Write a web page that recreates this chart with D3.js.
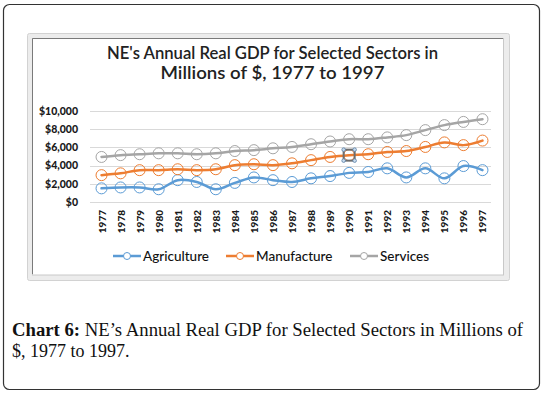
<!DOCTYPE html>
<html>
<head>
<meta charset="utf-8">
<script src="https://cdn.jsdelivr.net/npm/d3@7"></script>
<style>
  body { margin: 0; background: #fff; }
  svg { display: block; }
</style>
</head>
<body>
<svg id="chart"></svg>
<script>
// data
var years = ["1977","1978","1979","1980","1981","1982","1983","1984","1985","1986","1987",
             "1988","1989","1990","1991","1992","1993","1994","1995","1996","1997"]
var agriculture = [1500,1600,1600,1400,2400,2200,1400,2100,2700,2400,2200,
                   2600,2850,3200,3300,3700,2700,3700,2600,3950,3500]
var manufacture = [2950,3150,3500,3500,3600,3500,3600,4050,4150,4050,4250,
                   4600,4950,5150,5250,5500,5600,6050,6550,6250,6750]
var services = [4950,5150,5250,5350,5350,5250,5350,5600,5700,5900,6050,
                6350,6650,6900,6900,7100,7350,7900,8450,8800,9100]
var yTicks = [0,2000,4000,6000,8000,10000]
var seriesNames = ["Agriculture","Manufacture","Services"]
var seriesColors = ["#5b9bd5","#ed7d31","#a5a5a5"]

var series = [agriculture, manufacture, services].map((vals, i) => {
    return {name: seriesNames[i], color: seriesColors[i], values: vals}
})

var dimensions = {
    width: 544,
    height: 394,
    plot: {left: 92, right: 492, top: 111, bottom: 202}
}

var svg = d3.select("#chart")
            .attr("width", dimensions.width)
            .attr("height", dimensions.height)

// outer rounded box
svg.append("rect")
   .attr("x", 3.5).attr("y", 4.5)
   .attr("width", 536).attr("height", 385)
   .attr("rx", 6)
   .style("fill", "white")
   .style("stroke", "#333")
   .style("stroke-width", 1.2)

// excel chart frame (selected look)
svg.append("rect")
   .attr("x", 27.5).attr("y", 33.5)
   .attr("width", 482).attr("height", 247)
   .attr("rx", 2)
   .style("fill", "#ececec")
   .style("stroke", "#d2d2d2")
svg.append("rect")
   .attr("x", 32.5).attr("y", 38.5)
   .attr("width", 471).attr("height", 236.5)
   .style("fill", "white")
   .style("stroke", "#c8c8c8")
svg.append("path")
   .attr("d", "M32.5,274 L32.5,38.5 L503,38.5")
   .style("fill", "none")
   .style("stroke", "#7a7a7a")

// title
var font = "Lato, 'Noto Sans', sans-serif"
var title = svg.append("g")
               .style("font-family", font)
               .style("font-size", "17px")
               .style("font-weight", "600")
               .style("fill", "#222")
title.append("text")
     .attr("x", 272.5).attr("y", 58.5)
     .attr("text-anchor", "middle")
     .attr("textLength", 331)
     .attr("lengthAdjust", "spacingAndGlyphs")
     .text("NE's Annual Real GDP for Selected Sectors in")
title.append("text")
     .attr("x", 272.5).attr("y", 79)
     .attr("text-anchor", "middle")
     .attr("textLength", 224)
     .attr("lengthAdjust", "spacingAndGlyphs")
     .text("Millions of $, 1977 to 1997")

var xScale = d3.scalePoint()
               .domain(years)
               .range([dimensions.plot.left, dimensions.plot.right])
               .padding(0.5)

var yScale = d3.scaleLinear()
               .domain([0, 10000])
               .range([dimensions.plot.bottom, dimensions.plot.top])

// gridlines
svg.append("g")
   .selectAll("line")
   .data(yTicks)
   .enter()
   .append("line")
   .attr("x1", dimensions.plot.left - 2)
   .attr("x2", dimensions.plot.right - 1)
   .attr("y1", d => Math.round(yScale(d)) + 0.5)
   .attr("y2", d => Math.round(yScale(d)) + 0.5)
   .style("stroke", "#d9d9d9")
   .style("stroke-width", 1)

// y axis labels
var yAxis = svg.append("g")
               .attr("transform", "translate(" + (dimensions.plot.left - 11) + ",0)")
               .call(d3.axisLeft(yScale).tickValues(yTicks).tickSize(0)
                       .tickFormat(d => "$" + d3.format(",")(d)))
yAxis.select(".domain").remove()
yAxis.selectAll("text")
     .style("font-family", font)
     .style("font-size", "10.5px")
     .style("font-weight", "900")
     .style("fill", "#1a1a1a")

// x axis labels, rotated
var xAxis = svg.append("g")
               .attr("transform", "translate(0," + (dimensions.plot.bottom + 8) + ")")
               .call(d3.axisBottom(xScale).tickSize(0))
xAxis.select(".domain").remove()
xAxis.selectAll("text")
     .attr("transform", "rotate(-90)")
     .attr("x", 0).attr("y", 0)
     .attr("dy", "0.35em")
     .attr("text-anchor", "end")
     .style("font-family", font)
     .style("font-size", "10px")
     .style("font-weight", "900")
     .style("fill", "#1a1a1a")

var line = d3.line()
             .x((d, i) => xScale(years[i]))
             .y(d => yScale(d))
             .curve(d3.curveCatmullRom.alpha(0.5))

var groups = svg.append("g")
                .selectAll("g")
                .data(series)
                .enter()
                .append("g")

groups.append("path")
      .attr("d", d => line(d.values))
      .style("fill", "none")
      .style("stroke", d => d.color)
      .style("stroke-width", 2.5)
      .style("stroke-linecap", "round")

groups.selectAll("circle")
      .data(d => d.values.map(v => ({v: v, color: d.color})))
      .enter()
      .append("circle")
      .attr("cx", (d, i) => xScale(years[i]))
      .attr("cy", d => yScale(d.v))
      .attr("r", 5.5)
      .style("fill", "none")
      .style("stroke", d => d.color)
      .style("stroke-width", 1)

// selected marker box on manufacture 1990
var selIdx = years.indexOf("1990")
var sx = xScale(years[selIdx]), sy = yScale(manufacture[selIdx])
svg.append("rect")
   .attr("x", sx - 5.5).attr("y", sy - 5.5)
   .attr("width", 11).attr("height", 11)
   .style("fill", "none")
   .style("stroke", "#6d6d6d")
   .style("stroke-width", 2)
svg.append("g")
   .selectAll("circle")
   .data([[-1,-1],[1,-1],[-1,1],[1,1]])
   .enter()
   .append("circle")
   .attr("cx", d => sx + d[0] * 5.5)
   .attr("cy", d => sy + d[1] * 5.5)
   .attr("r", 1.8)
   .style("fill", "#c9dcee")
   .style("stroke", "#5a7fa6")
   .style("stroke-width", 0.8)

// legend
var legendX = [113, 226, 350]
var legend = svg.append("g")
                .selectAll("g")
                .data(series)
                .enter()
                .append("g")
                .attr("transform", (d, i) => "translate(" + legendX[i] + ",256)")
legend.append("line")
      .attr("x1", 0).attr("x2", 28)
      .style("stroke", d => d.color)
      .style("stroke-width", 2.5)
legend.append("circle")
      .attr("cx", 14).attr("r", 3.5)
      .style("fill", "white")
      .style("stroke", d => d.color)
      .style("stroke-width", 1)
legend.append("text")
      .attr("x", 30).attr("dy", "0.35em")
      .style("font-family", font)
      .style("font-size", "13.5px")
      .style("font-weight", "500")
      .style("fill", "#111")
      .text(d => d.name)

// caption
var serif = "'Liberation Serif', 'DejaVu Serif', serif"
var cap1 = svg.append("text")
              .attr("x", 12).attr("y", 336)
              .attr("textLength", 511)
              .attr("lengthAdjust", "spacingAndGlyphs")
              .style("font-family", serif)
              .style("font-size", "18px")
              .style("fill", "#111")
cap1.append("tspan").style("font-weight", "bold").text("Chart 6:")
cap1.append("tspan").text(" NE\u2019s Annual Real GDP for Selected Sectors in Millions of")
svg.append("text")
   .attr("x", 12).attr("y", 357)
   .style("font-family", serif)
   .style("font-size", "18px")
   .style("fill", "#111")
   .text("$, 1977 to 1997.")
</script>
</body>
</html>
